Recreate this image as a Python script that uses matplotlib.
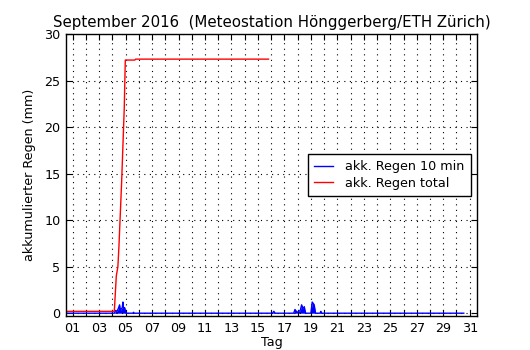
import numpy as np
import matplotlib
matplotlib.use("Agg")
import matplotlib.pyplot as plt

# accumulated total rain (day of month, mm)
total_days = [0.5, 4.15, 4.3, 4.42, 4.5, 4.7, 4.9, 4.98, 5.7, 5.76, 15.8]
total_mm = [0.2, 0.2, 4.0, 5.0, 7.2, 14.0, 22.0, 27.2, 27.2, 27.3, 27.3]

# 10-minute rain amounts (day of month, mm)
ten_days = [0.5, 4.15, 4.25, 4.35, 4.45, 4.55, 4.6, 4.65, 4.75, 4.8, 4.85, 4.93, 4.98,
            5.05, 5.55, 5.6, 5.65, 16.1, 16.2, 16.3, 17.7, 17.8, 17.9, 18.0, 18.2,
            18.3, 18.4, 18.5, 18.6, 19.0, 19.1, 19.2, 19.25, 19.35, 19.7, 19.75,
            19.8, 30.55]
ten_mm = [0.0, 0.0, 0.3, 0.2, 0.5, 0.9, 0.3, 0.4, 0.6, 1.2, 0.5, 0.6, 0.3,
          0.0, 0.0, 0.1, 0.0, 0.0, 0.2, 0.0, 0.0, 0.4, 0.2, 0.1, 0.3,
          0.9, 0.5, 0.7, 0.0, 0.0, 1.2, 1.0, 0.9, 0.0, 0.0, 0.2,
          0.0, 0.0]

day_ticks = list(range(1, 32))
day_labels = ["%02d" % d if d % 2 == 1 else "" for d in day_ticks]

fig = plt.figure(figsize=(5.3, 3.5), dpi=100)
ax = fig.add_axes([66 / 530, 34 / 350, 411 / 530, 282 / 350])

ax.plot(ten_days, ten_mm, color="blue", lw=1, label="akk. Regen 10 min")
ax.fill_between(ten_days, 0, ten_mm, color="blue", lw=0)
ax.plot(total_days, total_mm, color="red", lw=1, label="akk. Regen total")

ax.set_xlim(0.5, 31.55)
ax.set_ylim(-0.3, 30)
ax.set_xticks(day_ticks)
ax.set_xticklabels(day_labels)
ax.set_yticks([0, 5, 10, 15, 20, 25, 30])
ax.tick_params(direction="in", top=True, right=True, labelsize=9.2, length=4, pad=4)
ax.grid(True, color="black", linestyle=(0, (1, 4)), lw=0.8)
for s in ax.spines.values():
    s.set_linewidth(1.0)

ax.set_xlabel("Tag", fontsize=9.2, labelpad=1)
ax.set_ylabel("akkumulierter Regen (mm)", fontsize=9.2, labelpad=6)
ax.set_title("September 2016  (Meteostation Hönggerberg/ETH Zürich)", fontsize=10.8, pad=5)

leg = ax.legend(loc="center right", bbox_to_anchor=(1.0, 0.5), fontsize=9.2,
                fancybox=False, framealpha=1, edgecolor="black", handlelength=1.5,
                handletextpad=1.0, borderpad=0.45, labelspacing=0.3)
leg.get_frame().set_linewidth(1.0)

fig.savefig("out.png", dpi=100, facecolor="white")
